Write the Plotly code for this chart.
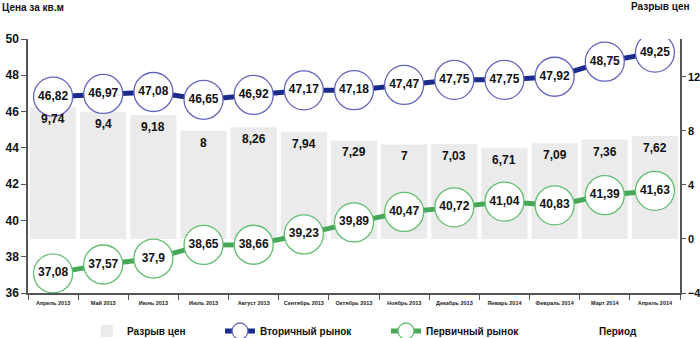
import plotly.graph_objects as go

months = ["Апрель 2013", "Май 2013", "Июнь 2013", "Июль 2013", "Август 2013",
          "Сентябрь 2013", "Октябрь 2013", "Ноябрь 2013", "Декабрь 2013",
          "Январь 2014", "Февраль 2014", "Март 2014", "Апрель 2014"]
secondary = [46.82, 46.97, 47.08, 46.65, 46.92, 47.17, 47.18, 47.47, 47.75,
             47.75, 47.92, 48.75, 49.25]
primary = [37.08, 37.57, 37.9, 38.65, 38.66, 39.23, 39.89, 40.47, 40.72,
           41.04, 40.83, 41.39, 41.63]
gap = [9.74, 9.4, 9.18, 8, 8.26, 7.94, 7.29, 7, 7.03, 6.71, 7.09, 7.36, 7.62]


def ru(v):
    return f"{v:g}".replace(".", ",")


FONT = "Liberation Sans, Arial, sans-serif"
W, H = 700, 338
L, R = 28, 680  # plot area pixel edges


def px_to_paper(px):
    return (px - L) / (R - L)


fig = go.Figure()

# Price gap bars sit on the base axis (right side) so the price lines draw above them
fig.add_trace(go.Bar(
    x=months, y=gap, yaxis="y", name="Разрыв цен",
    marker=dict(color="#ebebeb", line=dict(width=0)),
    width=0.92,
    legend="legend",
))

fig.add_trace(go.Scatter(
    x=months, y=secondary, yaxis="y2", name="Вторичный рынок",
    mode="lines+markers+text",
    line=dict(color="#1b2b8c", width=5),
    marker=dict(size=39, color="white", line=dict(color="#6466bd", width=1.3)),
    text=[ru(v) for v in secondary], textposition="middle center",
    textfont=dict(family=FONT, size=12, color="#111111", weight="bold"),
    legend="legend2",
))

fig.add_trace(go.Scatter(
    x=months, y=primary, yaxis="y2", name="Первичный рынок",
    mode="lines+markers+text",
    line=dict(color="#46a857", width=5),
    marker=dict(size=39, color="white", line=dict(color="#62bc72", width=1.3)),
    text=[ru(v) for v in primary], textposition="middle center",
    textfont=dict(family=FONT, size=12, color="#111111", weight="bold"),
    legend="legend3",
))

# Gap values written just under the top of each bar
bar_labels = [
    dict(x=m, y=g, xref="x", yref="y", yshift=-12, text=ru(g),
         showarrow=False, yanchor="middle",
         font=dict(family=FONT, size=12, color="#111111", weight="bold"))
    for m, g in zip(months, gap)
]

legend_common = dict(orientation="h", xref="container", yref="container",
                     yanchor="middle", y=1 - 331 / H, xanchor="left",
                     font=dict(family=FONT, size=10, color="#111111",
                               weight="bold"),
                     bgcolor="rgba(0,0,0,0)", itemwidth=30)

axis_style = dict(showgrid=False, zeroline=False, showline=True,
                  linecolor="#555555", linewidth=1.5, ticks="outside",
                  ticklen=5, tickcolor="#555555",
                  tickfont=dict(family=FONT, size=12, color="#111111",
                                weight="bold"))

fig.update_layout(
    width=W, height=H,
    margin=dict(l=L, r=W - R, t=39, b=45, autoexpand=False),
    paper_bgcolor="white", plot_bgcolor="white",
    font=dict(family=FONT, color="#111111"),
    showlegend=True,
    xaxis=dict(
        type="category", showgrid=False, showline=True, linecolor="#555555",
        linewidth=1.5, ticks="outside", tickson="boundaries", ticklen=5,
        tickcolor="#555555", tickangle=0, ticklabelstandoff=4,
        tickfont=dict(family=FONT, size=5.5, color="#222222", weight="bold"),
        range=[-0.5, 12.5],
    ),
    yaxis=dict(side="right", range=[-4, 14.8], tickvals=[-4, 0, 4, 8, 12],
               **{**axis_style, "ticklen": 4,
                  "tickfont": dict(family=FONT, size=11, color="#111111",
                                   weight="bold")}),
    yaxis2=dict(overlaying="y", side="left", range=[36, 50],
                tickvals=[36, 38, 40, 42, 44, 46, 48, 50], **axis_style),
    legend=dict(x=87 / W, **legend_common),
    legend2=dict(x=220 / W, **legend_common),
    legend3=dict(x=386 / W, **legend_common),
    annotations=bar_labels + [
        dict(text="Цена за кв.м", xref="paper", yref="paper",
             x=px_to_paper(0), y=1, xanchor="left", yanchor="middle",
             yshift=39 - 7, showarrow=False,
             font=dict(family=FONT, size=10, color="#111111", weight="bold")),
        dict(text="Разрыв цен", xref="paper", yref="paper",
             x=px_to_paper(692), y=1, xanchor="right", yanchor="middle",
             yshift=39 - 6, showarrow=False,
             font=dict(family=FONT, size=10, color="#111111", weight="bold")),
        dict(text="Период", xref="paper", yref="paper",
             x=px_to_paper(597), y=0, xanchor="left", yanchor="middle",
             yshift=-(331 - 293), showarrow=False,
             font=dict(family=FONT, size=10, color="#111111", weight="bold")),
    ],
)

fig.write_html("out.html")
